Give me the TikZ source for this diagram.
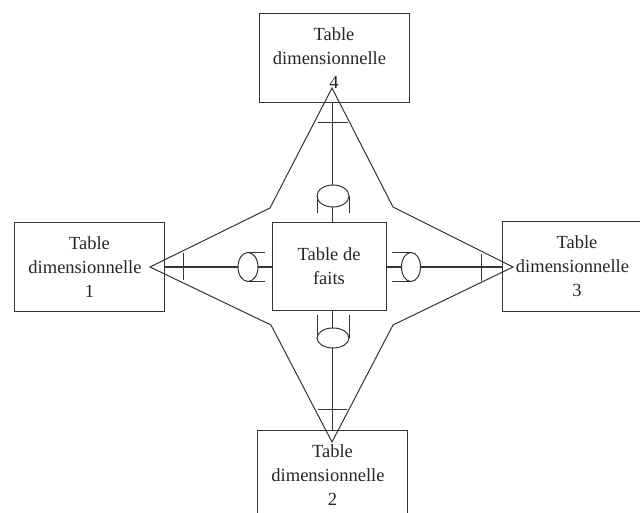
\documentclass[tikz,border=0pt]{standalone}
\usepackage{fontspec}
\setmainfont{Liberation Serif}
\newcommand{\dimword}{\hbox{dimensionnelle\kern9pt}}
\begin{document}
\begin{tikzpicture}[x=1pt,y=-1pt,
  ln/.style={line width=1pt, draw=black!80},
  dimbox/.style={ln, rectangle, minimum width=150pt, minimum height=89pt,
    align=center, inner sep=0pt, font=\fontsize{18.5}{24}\selectfont, text=black!85},
  factbox/.style={dimbox, minimum width=114pt, minimum height=87pt},
  oval/.style={ln, fill=white}]
\useasboundingbox (0,0) rectangle (640,513);
\clip (0,0) rectangle (640,513);
\fill[white] (0,0) rectangle (640,513);
% tables
\node[dimbox] (d4) at (334,58) {Table\\\dimword\\4};
\node[dimbox] (d1) at (89.5,267) {Table\\\dimword\\1};
\node[dimbox] (d3) at (577,266.5) {Table\\\dimword\\3};
\node[dimbox] (d2) at (332.5,475) {Table\\\dimword\\2};
\node[factbox] (f) at (329,266.5) {Table de\\faits};
% star outline
\coordinate (a4) at (332,88);
\coordinate (a1) at (150,267);
\coordinate (a3) at (513,267);
\coordinate (a2) at (332,442);
\coordinate (b41) at (270,208);
\coordinate (b43) at (393,207);
\coordinate (b32) at (393,325);
\coordinate (b21) at (271,325);
\draw[ln] (a4) -- (b43) -- (a3) -- (b32) -- (a2) -- (b21) -- (a1) -- (b41) -- cycle;
% connectors
\draw[ln] (d4.south -| a4) -- (f.north -| a4);
\draw[ln] (f.south -| a2) -- (d2.north -| a2);
\draw[ln] (d1.east |- a1) -- (f.west |- a1);
\draw[ln] (f.east |- a3) -- (d3.west |- a3);
% one-side ticks
\draw[ln] (318,123) -- (348,123);
\draw[ln] (183,253) -- (183,280);
\draw[ln] (481,254) -- (481,281);
\draw[ln] (318,409) -- (347,409);
% fact-side ovals with prongs
\draw[oval] (333,196) ellipse [x radius=16, y radius=11];
\draw[ln] (317,196) -- (317,213) (349,196) -- (349,213);
\draw[oval] (333,338) ellipse [x radius=16, y radius=10];
\draw[ln] (317,338) -- (317,315) (349,338) -- (349,315);
\draw[oval] (248,267) ellipse [x radius=10, y radius=14.5];
\draw[ln] (248,253) -- (265,253) (248,281) -- (265,281);
\draw[oval] (411,267) ellipse [x radius=9.5, y radius=14.5];
\draw[ln] (411,253) -- (392,253) (411,281) -- (392,281);
\end{tikzpicture}
\end{document}
